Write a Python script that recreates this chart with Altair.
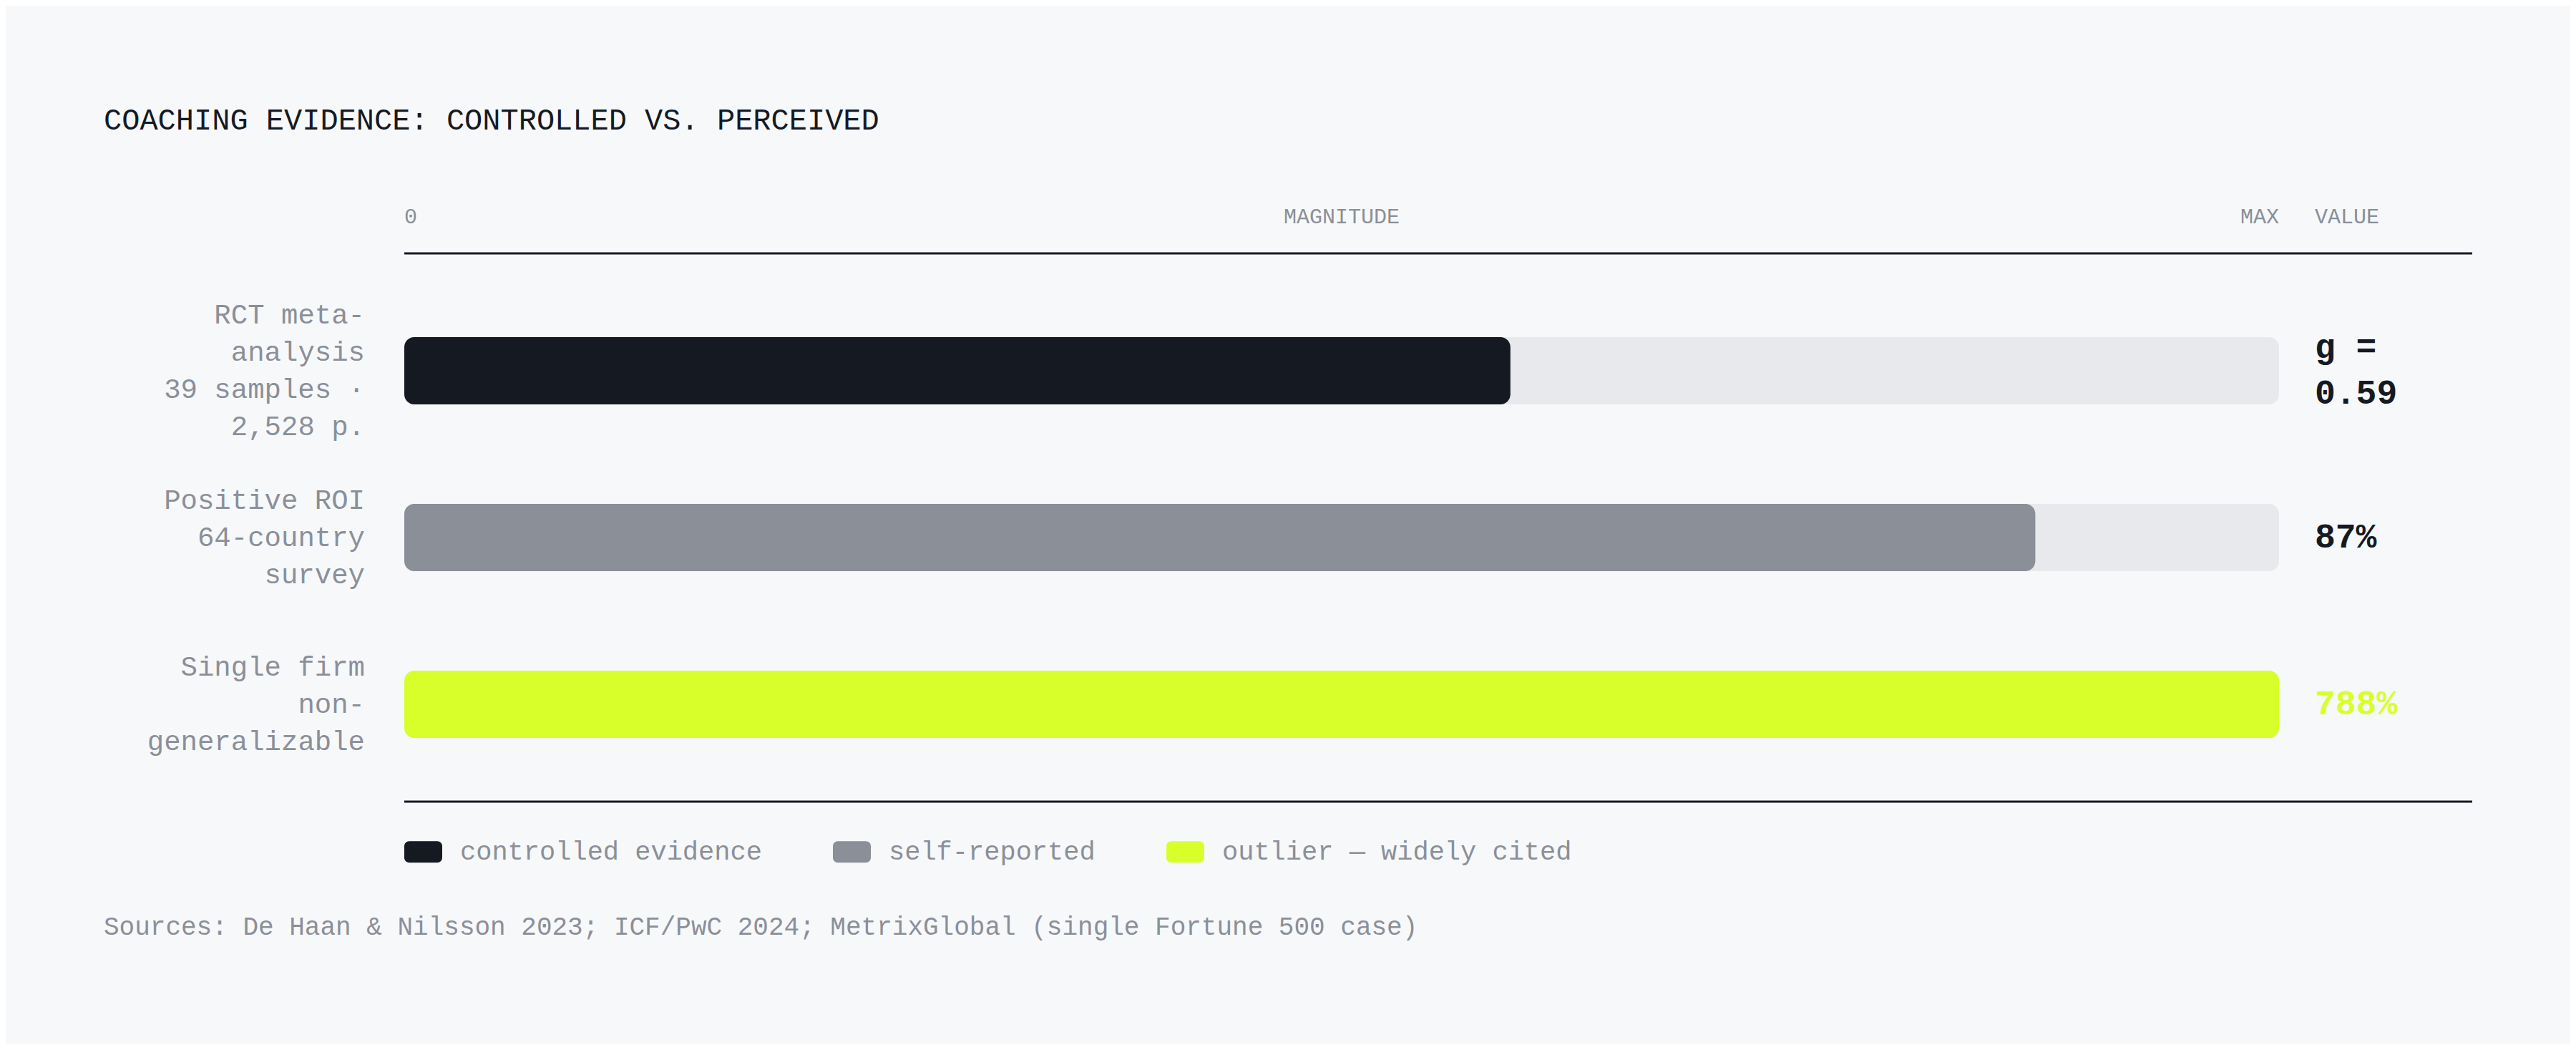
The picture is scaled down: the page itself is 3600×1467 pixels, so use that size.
import altair as alt
import pandas as pd

# ---- data -------------------------------------------------------------
row_labels = [
    "RCT meta-\nanalysis\n39 samples ·\n2,528 p.",
    "Positive ROI\n64-country\nsurvey",
    "Single firm\nnon-\ngeneralizable",
]
categories = ["controlled evidence", "self-reported", "outlier — widely cited"]
magnitudes = [0.59, 0.87, 7.88]
value_labels = ["g =\n0.59", "87%", "788%"]
header_labels = ["0", "MAGNITUDE", "MAX"]
header_positions = [0, 0.5, 1]
value_header = "VALUE"
title_text = "COACHING EVIDENCE: CONTROLLED VS. PERCEIVED"
sources_text = "Sources: De Haan & Nilsson 2023; ICF/PwC 2024; MetrixGlobal (single Fortune 500 case)"

# ---- style ------------------------------------------------------------
DARK = "#151a22"
GREY = "#8b8f98"
LIME = "#d9ff2b"
TRACK = "#e8e9ec"
BG = "#f7f8fa"
FONT = "Liberation Mono"
W, H, TRACK_W = 2890, 766, 2620
LABEL_LH, VALUE_LH = 52, 64
HALF_BAND = 47  # half of the bar thickness (band width ~94px)

df = pd.DataFrame({
    "row": row_labels,
    "category": categories,
    "magnitude": magnitudes,
    "value_label": value_labels,
})

xs = alt.Scale(domain=[0, 1], range=[0, TRACK_W], nice=False)
ys = alt.Scale(type="band", domain=row_labels, paddingInner=0.597,
               paddingOuter=0.4423, align=0.568)

base = alt.Chart(df).transform_calculate(
    start="0", full="1", fill="min(datum.magnitude, 1)",
    label_shift=f"{HALF_BAND} - (length(split(datum.row, '\\n')) - 1) * {LABEL_LH / 2}",
    value_shift=f"{HALF_BAND} - (length(split(datum.value_label, '\\n')) - 1) * {VALUE_LH / 2}",
)

X0 = alt.X("start:Q", scale=xs, axis=None)
Y = alt.Y("row:N", scale=ys, axis=None)

track = base.mark_bar(color=TRACK, cornerRadius=14).encode(x=X0, x2="full:Q", y=Y)

ROUNDED = ("M-0.736,-0.566H0.736A0.264,0.264,0,0,1,1,-0.302V0.302"
           "A0.264,0.264,0,0,1,0.736,0.566H-0.736A0.264,0.264,0,0,1,-1,0.302"
           "V-0.302A0.264,0.264,0,0,1,-0.736,-0.566Z")

fill = base.mark_bar(cornerRadius=14).encode(
    x=X0, x2="fill:Q", y=Y,
    color=alt.Color(
        "category:N",
        scale=alt.Scale(domain=categories, range=[DARK, GREY, LIME]),
        legend=alt.Legend(
            title=None, orient="none", legendX=0, legendY=809.5,
            direction="horizontal", columns=3, symbolType=ROUNDED,
            symbolSize=2809, symbolStrokeWidth=0, symbolOpacity=1,
            labelFont=FONT, labelFontSize=37, labelColor=GREY,
            labelOffset=25, columnPadding=98, labelLimit=0, padding=0,
        ),
    ),
)

row_text = base.mark_text(
    align="right", baseline="middle", dx=-55, font=FONT, fontSize=39,
    lineHeight=LABEL_LH, lineBreak="\n", color=GREY,
).encode(
    x=X0, y=Y, text="row:N",
    yOffset=alt.YOffset("label_shift:Q", scale=None),
)

value_text = base.mark_text(
    align="left", baseline="middle", dx=50, font=FONT, fontSize=48,
    fontWeight="bold", lineHeight=VALUE_LH, lineBreak="\n",
).encode(
    x=alt.X("full:Q", scale=xs, axis=None), y=Y, text="value_label:N",
    yOffset=alt.YOffset("value_shift:Q", scale=None),
    color=alt.condition("datum.magnitude > 1", alt.value(LIME), alt.value(DARK)),
)

headers = []
for label, pos, align in zip(header_labels, header_positions, ["left", "center", "right"]):
    headers.append(
        alt.Chart(pd.DataFrame({"label": [label], "pos": [pos]})).mark_text(
            align=align, baseline="middle", font=FONT, fontSize=30, color=GREY,
        ).encode(x=alt.X("pos:Q", scale=xs, axis=None), y=alt.value(-51), text="label:N")
    )
headers.append(
    alt.Chart(pd.DataFrame({"label": [value_header], "pos": [1]})).mark_text(
        align="left", baseline="middle", dx=50, font=FONT, fontSize=30, color=GREY,
    ).encode(x=alt.X("pos:Q", scale=xs, axis=None), y=alt.value(-51), text="label:N")
)

one = pd.DataFrame({"k": [0]})
top_rule = alt.Chart(one).mark_rule(color=DARK, strokeWidth=3).encode(
    x=alt.value(0), x2=alt.value(W), y=alt.value(0))
bottom_rule = alt.Chart(one).mark_rule(color=DARK, strokeWidth=3).encode(
    x=alt.value(0), x2=alt.value(W), y=alt.value(H))

title = alt.Chart(pd.DataFrame({"t": [title_text]})).mark_text(
    align="left", baseline="middle", font=FONT, fontSize=42, color=DARK,
).encode(x=alt.value(-420), y=alt.value(-186), text="t:N")

sources = alt.Chart(pd.DataFrame({"t": [sources_text]})).mark_text(
    align="left", baseline="middle", font=FONT, fontSize=36, color=GREY,
).encode(x=alt.value(-420), y=alt.value(941), text="t:N")

chart = alt.layer(
    track, fill, row_text, value_text, *headers, top_rule, bottom_rule, title, sources
).properties(
    width=W, height=H,
    autosize=alt.AutoSizeParams(type="none"),
    padding={"left": 557, "top": 346, "right": 137, "bottom": 339},
    background=BG,
).configure_view(strokeWidth=0)

chart.save("out.html", embed_options={"renderer": "svg", "actions": False})
